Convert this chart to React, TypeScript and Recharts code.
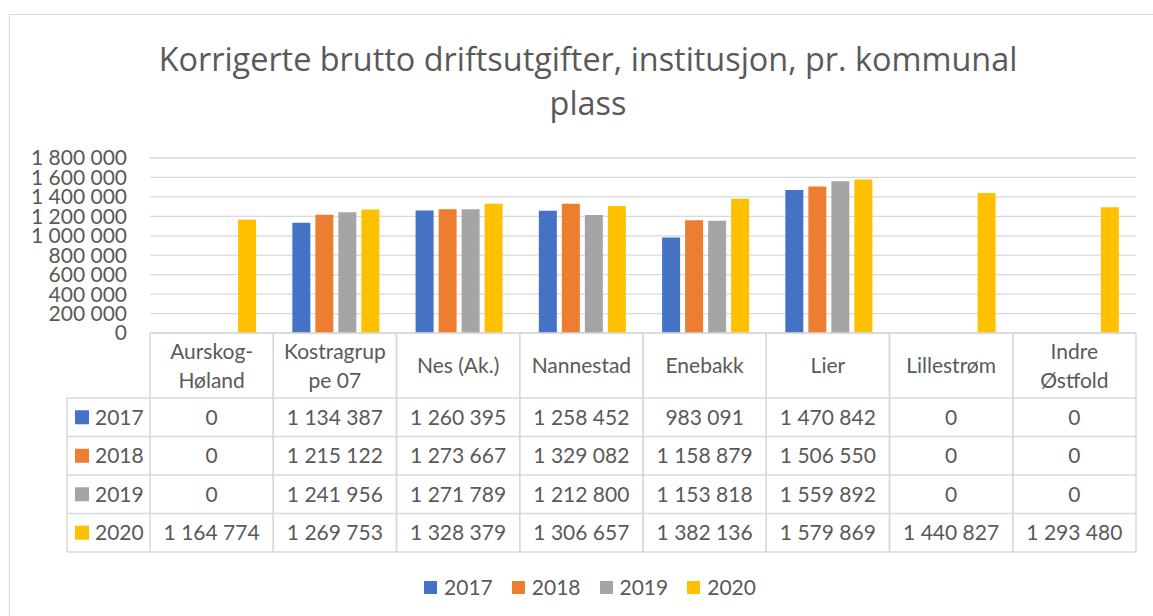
import { BarChart, Bar, XAxis, YAxis, CartesianGrid } from "recharts";

// ── Data ─────────────────────────────────────────────────────

const categories = [
  "Aurskog-Høland",
  "Kostragruppe 07",
  "Nes (Ak.)",
  "Nannestad",
  "Enebakk",
  "Lier",
  "Lillestrøm",
  "Indre Østfold",
];

// how Excel wrapped the category names in the table header
const headerLines = [
  ["Aurskog-", "Høland"],
  ["Kostragrup", "pe 07"],
  ["Nes (Ak.)"],
  ["Nannestad"],
  ["Enebakk"],
  ["Lier"],
  ["Lillestrøm"],
  ["Indre", "Østfold"],
];

const v2017 = [0, 1134387, 1260395, 1258452, 983091, 1470842, 0, 0];
const v2018 = [0, 1215122, 1273667, 1329082, 1158879, 1506550, 0, 0];
const v2019 = [0, 1241956, 1271789, 1212800, 1153818, 1559892, 0, 0];
const v2020 = [1164774, 1269753, 1328379, 1306657, 1382136, 1579869, 1440827, 1293480];

const yTicks = [0, 200000, 400000, 600000, 800000, 1000000, 1200000, 1400000, 1600000, 1800000];

const titleLines = ["Korrigerte brutto driftsutgifter, institusjon, pr. kommunal", "plass"];

const series = [
  { key: "y2017", name: "2017", color: "#4472C4", values: v2017 },
  { key: "y2018", name: "2018", color: "#ED7D31", values: v2018 },
  { key: "y2019", name: "2019", color: "#A5A5A5", values: v2019 },
  { key: "y2020", name: "2020", color: "#FFC000", values: v2020 },
];

const data = categories.map((name, i) => {
  const row: Record<string, string | number> = { name };
  series.forEach((s) => (row[s.key] = s.values[i]));
  return row;
});

// ── Layout ───────────────────────────────────────────────────

const W = 1153;
const H = 616;
const PLOT_LEFT = 150;
const PLOT_RIGHT = 1136;
const PLOT_TOP = 158;
const PLOT_H = 175;
const AXIS_H = 219;
const HEADER_H = 65;
const ROW_H = 38.5;
const LABEL_COL_W = 83;
const CELL_W = (PLOT_RIGHT - PLOT_LEFT) / categories.length;

const GRID = "#d9d9d9";
const TEXT = "#595959";
const FONT = "Lato, 'Open Sans', sans-serif";
const FS = 21;

const fmt = (n: number) => n.toString().replace(/\B(?=(\d{3})+(?!\d))/g, " ");

// ── Data table drawn under each category ─────────────────────

function TableTick(props: any) {
  const { x, y, payload } = props;
  const i = payload.index as number;
  const left = x - CELL_W / 2;
  const right = x + CELL_W / 2;
  const lines = headerLines[i];
  const bottom = y + HEADER_H + ROW_H * series.length;

  return (
    <g>
      <line x1={left} y1={y} x2={left} y2={bottom} stroke={GRID} strokeWidth={1.5} />
      <line x1={right} y1={y} x2={right} y2={bottom} stroke={GRID} strokeWidth={1.5} />
      {lines.map((t, k) => (
        <text
          key={k}
          x={x}
          y={y + HEADER_H / 2 + (k - (lines.length - 1) / 2) * 29}
          dy="0.36em"
          textAnchor="middle"
          fill={TEXT}
          fontSize={FS}
          fontFamily={FONT}
        >
          {t}
        </text>
      ))}
      {series.map((s, r) => {
        const top = y + HEADER_H + ROW_H * r;
        return (
          <g key={s.key}>
            <line x1={left} y1={top} x2={right} y2={top} stroke={GRID} strokeWidth={1.5} />
            <text
              x={x}
              y={top + ROW_H / 2}
              dy="0.36em"
              textAnchor="middle"
              fill={TEXT}
              fontSize={FS}
              fontFamily={FONT}
            >
              {fmt(s.values[i])}
            </text>
          </g>
        );
      })}
      <line x1={left} y1={bottom} x2={right} y2={bottom} stroke={GRID} strokeWidth={1.5} />

      {/* row labels with legend keys, left of the first column */}
      {i === 0 &&
        series.map((s, r) => {
          const top = y + HEADER_H + ROW_H * r;
          const lx = left - LABEL_COL_W;
          return (
            <g key={"lbl" + s.key}>
              <line x1={lx} y1={top} x2={left} y2={top} stroke={GRID} strokeWidth={1.5} />
              <line x1={lx} y1={top} x2={lx} y2={top + ROW_H} stroke={GRID} strokeWidth={1.5} />
              <rect x={lx + 8} y={top + ROW_H / 2 - 7} width={14} height={14} fill={s.color} />
              <text
                x={lx + 28}
                y={top + ROW_H / 2}
                dy="0.36em"
                fill={TEXT}
                fontSize={FS}
                fontFamily={FONT}
              >
                {s.name}
              </text>
              {r === series.length - 1 && (
                <line x1={lx} y1={top + ROW_H} x2={left} y2={top + ROW_H} stroke={GRID} strokeWidth={1.5} />
              )}
            </g>
          );
        })}
    </g>
  );
}

// ── Chart ────────────────────────────────────────────────────

export default function App() {
  return (
    <div
      style={{
        position: "absolute",
        left: 0,
        top: 0,
        width: W,
        height: H,
        overflow: "hidden",
        background: "#fff",
        fontFamily: FONT,
      }}
    >
      {/* chart area frame, runs off the right and bottom edges */}
      <div
        style={{
          position: "absolute",
          left: 9,
          top: 14,
          width: W + 100,
          height: H + 100,
          border: `1.5px solid ${GRID}`,
        }}
      />
      <div
        style={{
          position: "absolute",
          left: 0,
          top: 36,
          width: 1176,
          textAlign: "center",
          color: TEXT,
          fontFamily: "'Open Sans', Lato, sans-serif",
          fontSize: 32.4,
          lineHeight: "44px",
        }}
      >
        {titleLines.map((t) => (
          <div key={t}>{t}</div>
        ))}
      </div>

      <div style={{ position: "absolute", left: 0, top: 0 }}>
        <BarChart
          width={W}
          height={H}
          data={data}
          margin={{ top: PLOT_TOP, right: W - PLOT_RIGHT, bottom: H - PLOT_TOP - PLOT_H - AXIS_H, left: 0 }}
          barCategoryGap="15.5%"
          barGap={5}
        >
          <CartesianGrid vertical={false} stroke={GRID} strokeWidth={1.3} />
          <XAxis
            dataKey="name"
            interval={0}
            height={AXIS_H}
            tickSize={0}
            tickMargin={0}
            tickLine={false}
            axisLine={{ stroke: GRID, strokeWidth: 1.5 }}
            tick={<TableTick />}
          />
          <YAxis
            width={PLOT_LEFT}
            domain={[0, 1800000]}
            ticks={yTicks}
            interval={0}
            axisLine={false}
            tickLine={false}
            tickSize={0}
            tickMargin={23}
            tickFormatter={fmt}
            tick={{ fill: TEXT, fontSize: FS, fontFamily: FONT }}
          />
          {series.map((s) => (
            <Bar key={s.key} dataKey={s.key} name={s.name} fill={s.color} isAnimationActive={false} />
          ))}
        </BarChart>
      </div>

      {/* legend */}
      <div
        style={{
          position: "absolute",
          left: 0,
          top: 574,
          width: 1180,
          display: "flex",
          justifyContent: "center",
          gap: 19,
          color: TEXT,
          fontSize: FS,
          lineHeight: "26px",
        }}
      >
        {series.map((s) => (
          <div key={s.key} style={{ display: "flex", alignItems: "center", gap: 7 }}>
            <span style={{ width: 13, height: 13, background: s.color, display: "inline-block" }} />
            <span>{s.name}</span>
          </div>
        ))}
      </div>
    </div>
  );
}
